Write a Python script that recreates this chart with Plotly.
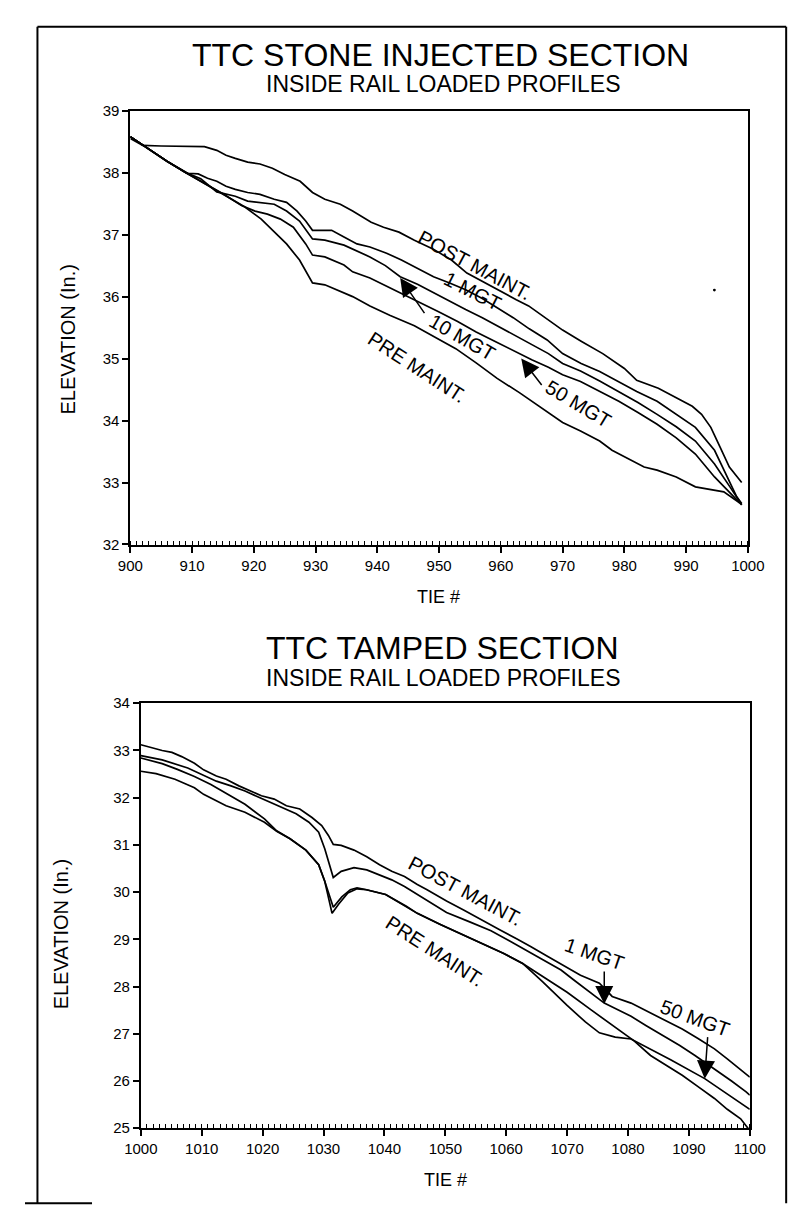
import plotly.graph_objects as go

# ---------------- TOP CHART DATA (TTC STONE INJECTED SECTION) ----------------
top_post_x = [900, 902, 905, 912, 914, 915.5, 917, 919, 921, 923, 925, 927.5, 929.5, 931.5, 934, 936, 939, 941,
              943.5, 946, 949, 952, 954.5, 956.5, 959.5, 962.5, 964.5, 967.5, 970, 973, 976.5, 980, 982, 985.5,
              988.5, 991, 992.5, 994, 995.5, 997, 999]
top_post_y = [38.55, 38.44, 38.43, 38.42, 38.36, 38.28, 38.23, 38.17, 38.14, 38.07, 37.97, 37.86, 37.68, 37.57,
              37.49, 37.38, 37.2, 37.12, 37.04, 36.91, 36.77, 36.59, 36.38, 36.27, 36.11, 35.95, 35.85, 35.64,
              35.46, 35.28, 35.08, 34.84, 34.65, 34.52, 34.36, 34.23, 34.1, 33.89, 33.57, 33.25, 33.0]

top_1mgt_x = [900, 903.5, 906, 909.3, 911, 912.5, 914, 915.5, 917, 919, 921, 923.3, 925.3, 927, 928.4, 929.5, 931,
              932.6, 934.6, 936.7, 938.8, 941.5, 943.9, 946.5, 949.1, 951.7, 954.3, 957, 959.4, 962, 964.6, 967.5,
              970, 973, 976, 979, 982, 985.3, 988.4, 991.5, 994.6, 996.6, 998.2, 999]
top_1mgt_y = [38.58, 38.34, 38.18, 37.99, 37.98, 37.91, 37.86, 37.78, 37.73, 37.68, 37.65, 37.57, 37.52, 37.38,
              37.22, 37.07, 37.07, 37.07, 36.96, 36.85, 36.8, 36.7, 36.59, 36.45, 36.32, 36.22, 36.11, 35.97,
              35.82, 35.66, 35.48, 35.3, 35.08, 34.92, 34.79, 34.63, 34.47, 34.31, 34.1, 33.89, 33.52, 33.09,
              32.77, 32.66]

top_10mgt_x = [900, 903.5, 906, 909, 911.4, 914, 917, 919, 921, 923.3, 925.3, 927.4, 929.5, 931.5, 934.6, 936.7,
               938.8, 941.3, 943.7, 946.5, 949.1, 951.7, 954.3, 957, 959.4, 962, 964.6, 967.7, 970, 972.9, 976,
               979.1, 982.2, 985.3, 988.4, 991.5, 994.6, 997.1, 999]
top_10mgt_y = [38.58, 38.34, 38.18, 38.0, 37.9, 37.69, 37.62, 37.54, 37.52, 37.49, 37.38, 37.22, 36.93, 36.91,
               36.83, 36.74, 36.64, 36.5, 36.32, 36.2, 36.06, 35.93, 35.79, 35.66, 35.53, 35.4, 35.26, 35.08,
               34.92, 34.8, 34.64, 34.47, 34.29, 34.1, 33.9, 33.67, 33.3, 32.93, 32.64]

top_50mgt_x = [900, 903.5, 906, 909, 912, 915, 918, 920.2, 922.2, 924.3, 926.4, 928.4, 929.5, 931.5, 934.6, 936,
               938.8, 941.5, 944, 947, 950, 953, 956, 959, 962, 965, 967.7, 970, 972.9, 976, 979.1, 982.2, 985.3,
               988.4, 991.5, 994.6, 997.1, 999]
top_50mgt_y = [38.58, 38.34, 38.18, 38.0, 37.83, 37.66, 37.47, 37.38, 37.33, 37.25, 37.12, 36.85, 36.67, 36.64,
               36.51, 36.4, 36.3, 36.17, 36.04, 35.9, 35.75, 35.6, 35.43, 35.28, 35.13, 34.98, 34.86, 34.74,
               34.63, 34.47, 34.31, 34.13, 33.94, 33.72, 33.46, 33.09, 32.83, 32.64]

top_pre_x = [900, 903.5, 906, 909, 912, 915, 918.5, 921.2, 923.3, 925.3, 927.4, 929.5, 931.5, 934.6, 936, 938.8,
             942, 946, 949, 952.7, 956, 959.4, 963, 966.7, 970, 972.9, 976, 978, 980.1, 983.2, 985.3, 988.4,
             991.5, 994.1, 996.1, 998.7]
top_pre_y = [38.58, 38.34, 38.18, 38.0, 37.83, 37.66, 37.45, 37.25, 37.04, 36.85, 36.59, 36.22, 36.19, 36.06,
             36.0, 35.85, 35.7, 35.53, 35.36, 35.16, 34.93, 34.68, 34.45, 34.2, 33.97, 33.83, 33.67, 33.52,
             33.41, 33.25, 33.2, 33.09, 32.93, 32.88, 32.85, 32.67]

# ---------------- BOTTOM CHART DATA (TTC TAMPED SECTION) ----------------
bot_post_x = [1000, 1001.4, 1003.5, 1005.1, 1006.7, 1008.8, 1010.3, 1012.4, 1014, 1016.1, 1018.2, 1019.8, 1021.9,
              1023.9, 1026.1, 1028.1, 1029.7, 1030.8, 1031.6, 1032.9, 1035, 1037.1, 1039.2, 1041.2, 1043.3,
              1045.4, 1047, 1050.2, 1053, 1056.4, 1059, 1061.7, 1064, 1066.9, 1069.5, 1072.2, 1075.3, 1077.4,
              1080.5, 1083.7, 1086, 1088.9, 1091.5, 1094.2, 1096.3, 1098, 1100]
bot_post_y = [33.12, 33.07, 33.0, 32.96, 32.87, 32.73, 32.59, 32.46, 32.39, 32.25, 32.14, 32.04, 31.97, 31.83,
              31.76, 31.58, 31.41, 31.2, 31.01, 30.99, 30.89, 30.75, 30.58, 30.44, 30.33, 30.16, 30.05, 29.81,
              29.62, 29.39, 29.2, 29.01, 28.85, 28.63, 28.43, 28.24, 28.07, 27.79, 27.65, 27.44, 27.28, 27.1,
              26.9, 26.68, 26.47, 26.3, 26.08]

bot_1mgt_x = [1000, 1003.5, 1007.7, 1010, 1012.4, 1014.8, 1017.1, 1019, 1021.3, 1023.4, 1025.5, 1027.6, 1029.2,
              1030.2, 1031.6, 1032.9, 1035, 1037.1, 1039.2, 1041.2, 1043.3, 1045.4, 1047.5, 1050.2, 1054, 1057.5,
              1060.5, 1063.8, 1066.5, 1069, 1071, 1073.2, 1076.1, 1078.5, 1080.5, 1083, 1085.8, 1088.5, 1091,
              1094.2, 1097, 1099.4, 1100]
bot_1mgt_y = [32.89, 32.8, 32.63, 32.5, 32.35, 32.25, 32.14, 32.03, 31.9, 31.79, 31.66, 31.48, 31.27, 30.92,
              30.31, 30.44, 30.52, 30.47, 30.37, 30.26, 30.12, 29.95, 29.78, 29.57, 29.37, 29.18, 28.97, 28.73,
              28.53, 28.35, 28.15, 27.93, 27.65, 27.5, 27.37, 27.17, 26.96, 26.75, 26.54, 26.26, 26.0, 25.77, 25.7]

bot_50mgt_x = [1000, 1003.5, 1006, 1008.8, 1011.5, 1014, 1017.1, 1020.3, 1022.3, 1024.5, 1027.1, 1029.2, 1030.2,
               1031.4, 1032.5, 1034, 1035.5, 1037, 1040.2, 1043.6, 1045.4, 1049.1, 1054.4, 1059.6, 1062.7, 1066,
               1070, 1073, 1075.3, 1077.9, 1080.5, 1083, 1087, 1092.6, 1096, 1100]
bot_50mgt_y = [32.84, 32.72, 32.6, 32.45, 32.28, 32.1, 31.86, 31.55, 31.3, 31.13, 30.89, 30.58, 30.23, 29.55,
               29.75, 29.98, 30.07, 30.05, 29.95, 29.7, 29.55, 29.32, 29.01, 28.7, 28.49, 28.1, 27.6, 27.25,
               27.02, 26.93, 26.89, 26.72, 26.45, 26.05, 25.75, 25.4]

bot_pre_x = [1000, 1002.5, 1005.6, 1008.8, 1010.3, 1014, 1017.1, 1020.3, 1022.3, 1024.5, 1027.1, 1029.2, 1030.2,
             1031.6, 1033, 1034.4, 1035.5, 1037.1, 1040.2, 1043.6, 1045.4, 1049.1, 1054.4, 1059.6, 1062.7, 1066,
             1070, 1074, 1078, 1081, 1083.7, 1086, 1088.9, 1091.5, 1094.2, 1096.3, 1098.5, 1100]
bot_pre_y = [32.56, 32.51, 32.39, 32.21, 32.07, 31.83, 31.69, 31.48, 31.29, 31.13, 30.89, 30.58, 30.23, 29.68,
             29.9, 30.05, 30.09, 30.05, 29.95, 29.7, 29.55, 29.32, 29.01, 28.7, 28.49, 28.22, 27.88, 27.5, 27.12,
             26.85, 26.54, 26.35, 26.12, 25.88, 25.63, 25.4, 25.2, 24.95]

# ---------------- AXIS / TEXT CONTENT ----------------
top_title = "TTC STONE INJECTED SECTION"
bot_title = "TTC TAMPED SECTION"
subtitle = "INSIDE RAIL LOADED PROFILES"
y_title = "ELEVATION (In.)"
x_title = "TIE #"
top_xticks = list(range(900, 1001, 10))
top_yticks = list(range(32, 40))
bot_xticks = list(range(1000, 1101, 10))
bot_yticks = list(range(25, 35))

W, H = 799, 1213
FONT = "Liberation Sans, Arial, Helvetica, sans-serif"


def px(x):
    return x / W


def py(y):
    return 1 - y / H


fig = go.Figure()

line_style = dict(color="black", width=1.7)
for xs, ys in [(top_post_x, top_post_y), (top_1mgt_x, top_1mgt_y), (top_10mgt_x, top_10mgt_y),
               (top_50mgt_x, top_50mgt_y), (top_pre_x, top_pre_y)]:
    fig.add_trace(go.Scatter(x=xs, y=ys, mode="lines", line=line_style, xaxis="x", yaxis="y",
                             showlegend=False, hoverinfo="skip"))
for xs, ys in [(bot_post_x, bot_post_y), (bot_1mgt_x, bot_1mgt_y), (bot_50mgt_x, bot_50mgt_y),
               (bot_pre_x, bot_pre_y)]:
    fig.add_trace(go.Scatter(x=xs, y=ys, mode="lines", line=line_style, xaxis="x2", yaxis="y2",
                             showlegend=False, hoverinfo="skip"))

axis_common = dict(showgrid=False, zeroline=False, showline=True, linecolor="black", linewidth=2,
                   mirror=True, ticks="outside", tickcolor="black", tickwidth=1.5, ticklen=6,
                   tickfont=dict(family=FONT, size=15, color="black"))

xminor = dict(ticks="inside", dtick=1, ticklen=4, tickcolor="black", tickwidth=1)

fig.update_layout(
    width=W, height=H,
    margin=dict(l=0, r=0, t=0, b=0),
    paper_bgcolor="white", plot_bgcolor="white",
    xaxis=dict(domain=[px(110), px(755)], anchor="y", range=[900, 1000], tickvals=top_xticks,
               minor=xminor, **axis_common),
    yaxis=dict(domain=[py(535), py(95)], anchor="x", range=[32, 39], tickvals=top_yticks, **axis_common),
    xaxis2=dict(domain=[px(121), px(757)], anchor="y2", range=[1000, 1100], tickvals=bot_xticks,
                minor=xminor, **axis_common),
    yaxis2=dict(domain=[py(1127), py(696)], anchor="x2", range=[25, 34], tickvals=bot_yticks, **axis_common),
)

ann = []


def text(x, y, s, size, angle=0):
    ann.append(dict(x=px(x), y=py(y), xref="paper", yref="paper", text=s, showarrow=False,
                    textangle=angle, xanchor="center", yanchor="middle",
                    font=dict(family=FONT, size=size, color="black")))


# titles
text(434, 39, top_title, 32)
text(437, 68, subtitle, 23)
text(436, 640, bot_title, 32)
text(437, 670, subtitle, 23)
# axis titles
text(45, 327, y_title, 20, -90)
text(38, 930, y_title, 20, -90)
text(432, 588, x_title, 18)
text(439, 1180, x_title, 18)

# curve labels - top
text(469, 252, "POST MAINT.", 20, 28)
text(467, 278, "1 MGT", 20, 27)
text(456, 325, "10 MGT", 20, 30)
text(409, 355, "PRE MAINT.", 20, 33)
text(578, 393, "50 MGT", 20, 31)
# curve labels - bottom
text(460, 886, "POST MAINT.", 20, 28)
text(428, 947, "PRE MAINT.", 20, 33)
text(595, 950, "1 MGT", 20, 19)
text(700, 1015, "50 MGT", 20, 20)

# arrows (tip in data coordinates)
arrows = [
    ("x", "y", 943.7, 36.3, 947.8, 35.71),
    ("x", "y", 963.3, 35.0, 966.8, 34.55),
    ("x2", "y2", 1076.1, 27.63, 1076.1, 28.35),
    ("x2", "y2", 1092.6, 26.05, 1093.1, 26.96),
]
for xr, yr, tx, ty, sx, sy in arrows:
    ann.append(dict(x=tx, y=ty, xref=xr, yref=yr, ax=sx, ay=sy, axref=xr, ayref=yr, text="",
                    showarrow=True, arrowhead=2, arrowsize=2.4, arrowwidth=1.5, arrowcolor="black"))

fig.update_layout(annotations=ann)

# outer frame
frame = dict(type="line", xref="paper", yref="paper", line=dict(color="black", width=2))
shapes = [
    dict(frame, x0=px(13), y0=py(10), x1=px(795), y1=py(10)),
    dict(frame, x0=px(13), y0=py(10), x1=px(13), y1=py(1203)),
    dict(frame, x0=px(795), y0=py(10), x1=px(795), y1=py(1203)),
    dict(frame, x0=px(0), y0=py(1203), x1=px(70), y1=py(1203)),
    dict(type="circle", xref="paper", yref="paper", x0=px(718.5), x1=px(721.5), y0=py(275.5), y1=py(278.5),
         fillcolor="black", line=dict(width=0)),
]
fig.update_layout(shapes=shapes)

fig.write_html("out.html")
